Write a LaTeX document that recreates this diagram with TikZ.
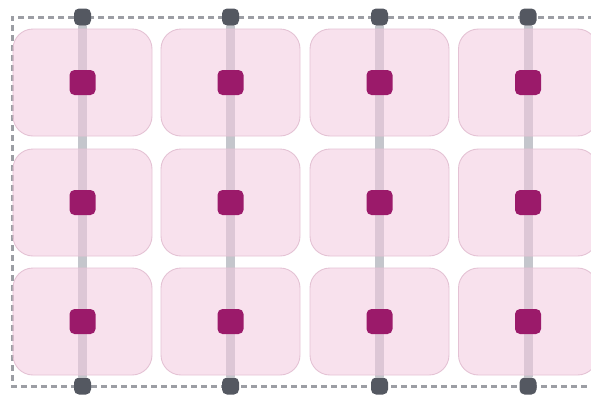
\documentclass[tikz,border=0pt]{standalone}
\usepackage{xcolor}
\usepackage{tikz}
\definecolor{tilefill}{HTML}{F3C9DF}
\definecolor{tiledraw}{HTML}{E4C2D4}
\definecolor{chipfill}{HTML}{9B1A6A}
\definecolor{portfill}{HTML}{545861}
\definecolor{railgray}{HTML}{C4C6CC}
\definecolor{framegray}{HTML}{9C9EA4}
\tikzset{
  tile/.style     = {rectangle, rounded corners=20pt, draw=tiledraw, line width=0.9pt,
                     fill=tilefill, fill opacity=0.55, draw opacity=1,
                     minimum width=139pt, minimum height=107pt, inner sep=0pt},
  chip/.style     = {rectangle, rounded corners=5pt, fill=chipfill,
                     minimum width=26pt, minimum height=25pt, inner sep=0pt},
  port/.style     = {rectangle, rounded corners=5pt, fill=portfill,
                     minimum size=17pt, inner sep=0pt},
  rail/.style     = {draw=railgray, line width=9pt},
  dashframe/.style= {draw=framegray, line width=3pt, dash pattern=on 6pt off 4pt},
}
\begin{document}
\begin{tikzpicture}[x=1pt, y=-1pt]
  \useasboundingbox (0,0) rectangle (591,394);

  % dashed frame (open to the right)
  \draw[dashframe] (604,17) -- (12,17) -- (12,386) -- (604,386);

  % ports, top and bottom
  \node[port] (tp1) at (82.5,17) {};
  \node[port] (tp2) at (230.5,17) {};
  \node[port] (tp3) at (379.5,17) {};
  \node[port] (tp4) at (528,17) {};
  \node[port] (bt1) at (82.5,386) {};
  \node[port] (bt2) at (230.5,386) {};
  \node[port] (bt3) at (379.5,386) {};
  \node[port] (bt4) at (528,386) {};

  % rails, under the tiles
  \draw[rail] (tp1.south) -- (bt1.north);
  \draw[rail] (tp2.south) -- (bt2.north);
  \draw[rail] (tp3.south) -- (bt3.north);
  \draw[rail] (tp4.south) -- (bt4.north);

  % row a
  \node[tile] (ca1) at (82.5,82.5) {};
  \node[tile] (ca2) at (230.5,82.5) {};
  \node[tile] (ca3) at (379.5,82.5) {};
  \node[tile] (ca4) at (528,82.5) {};
  \node[chip] (ka1) at (ca1.center) {};
  \node[chip] (ka2) at (ca2.center) {};
  \node[chip] (ka3) at (ca3.center) {};
  \node[chip] (ka4) at (ca4.center) {};

  % row b
  \node[tile] (cb1) at (82.5,202.5) {};
  \node[tile] (cb2) at (230.5,202.5) {};
  \node[tile] (cb3) at (379.5,202.5) {};
  \node[tile] (cb4) at (528,202.5) {};
  \node[chip] (kb1) at (cb1.center) {};
  \node[chip] (kb2) at (cb2.center) {};
  \node[chip] (kb3) at (cb3.center) {};
  \node[chip] (kb4) at (cb4.center) {};

  % row c
  \node[tile] (cc1) at (82.5,321.5) {};
  \node[tile] (cc2) at (230.5,321.5) {};
  \node[tile] (cc3) at (379.5,321.5) {};
  \node[tile] (cc4) at (528,321.5) {};
  \node[chip] (kc1) at (cc1.center) {};
  \node[chip] (kc2) at (cc2.center) {};
  \node[chip] (kc3) at (cc3.center) {};
  \node[chip] (kc4) at (cc4.center) {};

\end{tikzpicture}
\end{document}
